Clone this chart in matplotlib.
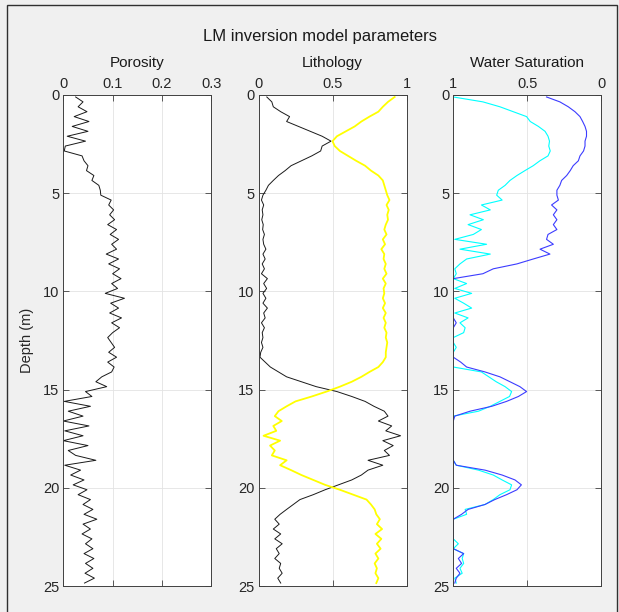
import numpy as np
import matplotlib
matplotlib.use('Agg')
import matplotlib.pyplot as plt
from matplotlib.patches import Rectangle

plt.rcParams['font.family'] = ['Liberation Sans', 'DejaVu Sans']

# depth samples (m)
depth = np.arange(0.1, 25.0, 0.25)

porosity = [0.025, 0.040, 0.030, 0.048, 0.022, 0.052, 0.018, 0.050, 0.008, 0.045,
            0.004, 0.002, 0.038, 0.042, 0.050, 0.047, 0.062, 0.058, 0.072, 0.075,
            0.076, 0.097, 0.092, 0.102, 0.094, 0.104, 0.090, 0.108, 0.095, 0.112,
            0.098, 0.108, 0.087, 0.112, 0.092, 0.114, 0.100, 0.117, 0.098, 0.110,
            0.085, 0.124, 0.096, 0.112, 0.094, 0.118, 0.098, 0.114, 0.100, 0.090,
            0.097, 0.104, 0.092, 0.108, 0.090, 0.103, 0.098, 0.078, 0.066, 0.088,
            0.045, 0.058, 0.002, 0.055, 0.010, 0.040, 0.000, 0.052, 0.003, 0.040,
            0.000, 0.050, 0.010, 0.025, 0.066, 0.003, 0.035, 0.015, 0.042, 0.020,
            0.048, 0.030, 0.055, 0.040, 0.060, 0.042, 0.068, 0.040, 0.055, 0.038,
            0.058, 0.045, 0.060, 0.042, 0.062, 0.045, 0.060, 0.044, 0.063, 0.043]

shale = [0.056, 0.09, 0.10, 0.15, 0.21, 0.19, 0.27, 0.35, 0.43, 0.49,
         0.43, 0.42, 0.36, 0.29, 0.22, 0.18, 0.135, 0.10, 0.067, 0.05,
         0.03, 0.02, 0.035, 0.025, 0.03, 0.022, 0.032, 0.028, 0.04, 0.03,
         0.035, 0.05, 0.03, 0.045, 0.025, 0.04, 0.02, 0.06, 0.035, 0.055,
         0.03, 0.05, 0.03, 0.06, 0.035, 0.045, 0.02, 0.04, 0.025, 0.03,
         0.02, 0.03, 0.015, 0.01, 0.045, 0.08, 0.135, 0.19, 0.29, 0.39,
         0.53, 0.63, 0.72, 0.78, 0.85, 0.875, 0.81, 0.90, 0.86, 0.96,
         0.84, 0.91, 0.85, 0.885, 0.74, 0.84, 0.74, 0.695, 0.63, 0.54,
         0.45, 0.37, 0.28, 0.235, 0.19, 0.146, 0.11, 0.14, 0.10, 0.15,
         0.11, 0.16, 0.12, 0.14, 0.11, 0.15, 0.14, 0.16, 0.13, 0.15]

sand = [0.92, 0.875, 0.84, 0.81, 0.75, 0.695, 0.65, 0.59, 0.53, 0.50,
        0.515, 0.55, 0.605, 0.66, 0.72, 0.76, 0.81, 0.84, 0.85, 0.86,
        0.87, 0.885, 0.865, 0.88, 0.87, 0.875, 0.86, 0.85, 0.865, 0.84,
        0.855, 0.83, 0.85, 0.845, 0.86, 0.85, 0.865, 0.84, 0.86, 0.845,
        0.85, 0.84, 0.855, 0.84, 0.86, 0.845, 0.86, 0.85, 0.865, 0.86,
        0.87, 0.865, 0.86, 0.86, 0.84, 0.81, 0.75, 0.695, 0.63, 0.55,
        0.46, 0.36, 0.25, 0.19, 0.135, 0.11, 0.157, 0.10, 0.12, 0.034,
        0.146, 0.078, 0.11, 0.09, 0.19, 0.146, 0.22, 0.29, 0.37, 0.45,
        0.55, 0.64, 0.73, 0.76, 0.785, 0.796, 0.82, 0.80, 0.835, 0.79,
        0.83, 0.80, 0.825, 0.79, 0.81, 0.785, 0.80, 0.79, 0.81, 0.796]

sw_cyan = [1.0, 0.80, 0.685, 0.595, 0.505, 0.48, 0.425, 0.38, 0.36, 0.35,
           0.355, 0.345, 0.36, 0.415, 0.46, 0.516, 0.57, 0.617, 0.65, 0.696,
           0.707, 0.67, 0.81, 0.75, 0.887, 0.797, 0.90, 0.81, 0.865, 0.99,
           0.775, 0.955, 0.75, 0.91, 0.955, 0.99, 0.98, 1.0, 0.91, 0.99,
           0.876, 0.99, 0.93, 0.876, 0.99, 0.90, 0.955, 0.92, 0.93, 1.0,
           1.0, 0.98, 1.0, 1.0, 1.0, 1.0, 0.81, 0.76, 0.71, 0.65,
           0.606, 0.62, 0.685, 0.75, 0.83, 1.0, 1.0, 1.0, 1.0, 1.0,
           1.0, 1.0, 1.0, 1.0, 1.0, 0.98, 0.83, 0.73, 0.67, 0.606,
           0.617, 0.685, 0.73, 0.786, 0.92, 0.91, 1.0, 1.0, 1.0, 1.0,
           1.0, 0.966, 1.0, 0.93, 0.94, 0.93, 0.955, 0.94, 0.99, 0.98]

sw_blue = [0.37, 0.28, 0.223, 0.178, 0.144, 0.126, 0.11, 0.10, 0.10, 0.11,
           0.11, 0.12, 0.144, 0.155, 0.19, 0.21, 0.234, 0.268, 0.28, 0.30,
           0.30, 0.29, 0.336, 0.30, 0.324, 0.30, 0.324, 0.30, 0.36, 0.37,
           0.324, 0.414, 0.347, 0.46, 0.57, 0.73, 0.80, 1.0, 1.0, 1.0,
           1.0, 1.0, 1.0, 1.0, 1.0, 1.0, 0.98, 1.0, 1.0, 1.0,
           1.0, 1.0, 1.0, 1.0, 0.95, 0.91, 0.786, 0.685, 0.617, 0.55,
           0.505, 0.56, 0.64, 0.74, 0.887, 0.99, 1.0, 1.0, 1.0, 1.0,
           1.0, 1.0, 1.0, 1.0, 1.0, 0.98, 0.786, 0.67, 0.583, 0.54,
           0.57, 0.64, 0.72, 0.786, 0.90, 0.944, 1.0, 1.0, 1.0, 1.0,
           1.0, 1.0, 1.0, 0.93, 0.966, 0.944, 0.98, 0.955, 0.98, 0.99]

fig = plt.figure(figsize=(6.19, 6.12), dpi=100, facecolor='#f0f0f0')

# window frame
fig.patches.append(Rectangle((7 / 619, -0.01), 610 / 619, 1 - 5 / 612 + 0.01,
                             transform=fig.transFigure, fill=False,
                             edgecolor='#303030', linewidth=1.0))

fig.text(0.517, 1 - 36 / 612, 'LM inversion model parameters',
         ha='center', va='center', fontsize=12, color='#1a1a1a')

bottom = 1 - 586 / 612
height = (586 - 95) / 612
lefts = [63.3 / 619, 258.5 / 619, 453.3 / 619]
width = 148 / 619


def style(ax, xlim, xticks, xlabels, title):
    ax.set_facecolor('white')
    ax.set_xlim(*xlim)
    ax.set_ylim(25, 0)
    ax.set_xticks(xticks)
    ax.set_xticklabels(xlabels)
    ax.set_yticks([0, 5, 10, 15, 20, 25])
    ax.xaxis.tick_top()
    ax.tick_params(axis='both', which='both', direction='in', length=4,
                   width=0.6, color='#404040', labelsize=10.5,
                   labelcolor='#262626', top=True, bottom=True,
                   left=True, right=True, labeltop=True, labelbottom=False,
                   pad=3)
    ax.grid(True, color='#e3e3e3', linewidth=0.6)
    ax.set_axisbelow(True)
    for s in ax.spines.values():
        s.set_color('#404040')
        s.set_linewidth(0.7)
    ax.set_title(title, fontsize=11, color='#1a1a1a', pad=20)


ax1 = fig.add_axes([lefts[0], bottom, width, height])
ax1.plot(porosity, depth, color='#1a1a1a', linewidth=0.7)
style(ax1, (0, 0.3), [0, 0.1, 0.2, 0.3], ['0', '0.1', '0.2', '0.3'], 'Porosity')
ax1.set_ylabel('Depth (m)', fontsize=10.5, color='#262626', labelpad=6)

ax2 = fig.add_axes([lefts[1], bottom, width, height])
ax2.plot(shale, depth, color='#1a1a1a', linewidth=0.7)
ax2.plot(sand, depth, color='#ffff00', linewidth=1.3)
style(ax2, (0, 1), [0, 0.5, 1], ['0', '0.5', '1'], 'Lithology')

ax3 = fig.add_axes([lefts[2], bottom, width, height])
ax3.plot(sw_cyan, depth, color='#00ffff', linewidth=0.8)
ax3.plot(sw_blue, depth, color='#3c3cff', linewidth=0.8)
style(ax3, (1, 0), [0, 0.5, 1], ['0', '0.5', '1'], 'Water Saturation')

fig.savefig('out.png', dpi=100, facecolor=fig.get_facecolor())
